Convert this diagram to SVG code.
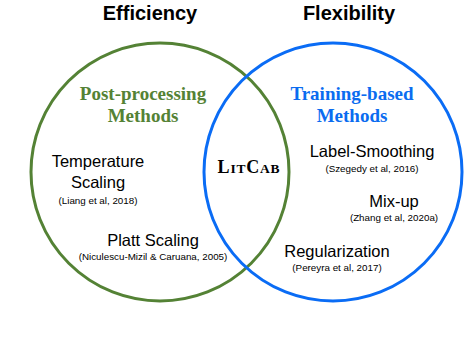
<svg xmlns="http://www.w3.org/2000/svg" width="466" height="338" viewBox="0 0 466 338">
<style>
.head{font-family:"Liberation Sans",Arial,sans-serif;font-weight:bold;font-size:20px;fill:#000;text-anchor:middle}
.grp{font-family:"Liberation Serif","Times New Roman",serif;font-weight:bold;font-size:19px;text-anchor:middle}
.green{fill:#548235}
.blue{fill:#0a6cf0}
.item{font-family:"Liberation Sans",Arial,sans-serif;font-size:16.5px;fill:#000;text-anchor:middle}
.cite{font-family:"Liberation Sans",Arial,sans-serif;font-size:9.8px;fill:#000;text-anchor:middle}
.circ{fill:none;stroke-width:3}
.lc{font-family:"Liberation Serif","Times New Roman",serif;font-weight:bold;fill:#000;text-anchor:middle;letter-spacing:0.8px}
</style>
<rect width="466" height="338" fill="#fff"/>
<g id="efficiency-circle">
<circle class="circ" cx="160" cy="172" r="129" stroke="#548235"/>
</g>
<g id="flexibility-circle">
<circle class="circ" cx="333" cy="172" r="129" stroke="#0a6cf5"/>
</g>
<g id="efficiency-label"><text class="head" x="150" y="20">Efficiency</text></g>
<g id="flexibility-label"><text class="head" x="349" y="20">Flexibility</text></g>
<g id="post-processing">
<text class="grp green" x="143" y="100">Post-processing</text>
<text class="grp green" x="143" y="122">Methods</text>
</g>
<g id="training-based">
<text class="grp blue" x="352" y="100">Training-based</text>
<text class="grp blue" x="352" y="122">Methods</text>
</g>
<g id="temperature-scaling">
<text class="item" x="98" y="167">Temperature</text>
<text class="item" x="98" y="188">Scaling</text>
<text class="cite" x="98" y="204">(Liang et al, 2018)</text>
</g>
<g id="platt-scaling">
<text class="item" x="153" y="246">Platt Scaling</text>
<text class="cite" x="153" y="260">(Niculescu-Mizil &amp; Caruana, 2005)</text>
</g>
<g id="litcab">
<text class="lc" x="249" y="173"><tspan font-size="18px">L</tspan><tspan font-size="13.5px">IT</tspan><tspan font-size="18px">C</tspan><tspan font-size="13.5px">AB</tspan></text>
</g>
<g id="label-smoothing">
<text class="item" x="372" y="157">Label-Smoothing</text>
<text class="cite" x="372" y="172">(Szegedy et al, 2016)</text>
</g>
<g id="mix-up">
<text class="item" x="394" y="207">Mix-up</text>
<text class="cite" x="394" y="221">(Zhang et al, 2020a)</text>
</g>
<g id="regularization">
<text class="item" x="337" y="257">Regularization</text>
<text class="cite" x="337" y="271">(Pereyra et al, 2017)</text>
</g>
<g id="connectors"></g>
</svg>
